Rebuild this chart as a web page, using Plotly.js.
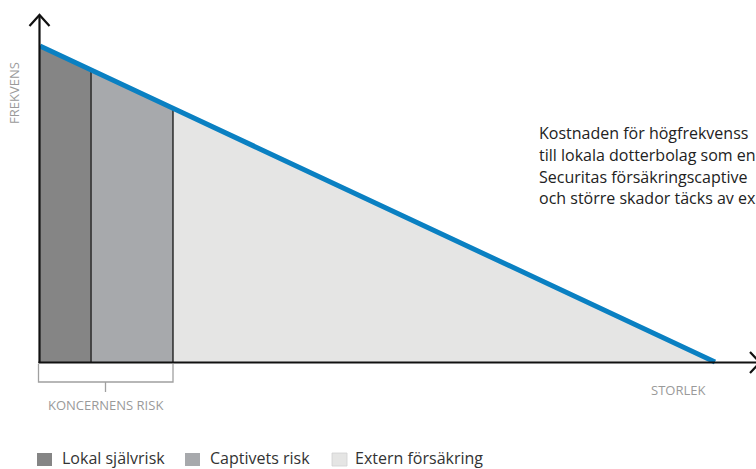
<!DOCTYPE html>
<html>
<head>
<meta charset="utf-8">
<script src="https://cdn.plot.ly/plotly-3.0.1.min.js"></script>
<style>html,body{margin:0;padding:0;background:#fff;}#chart{width:756px;height:469px;}</style>
</head>
<body>
<div id="chart"></div>
<script>
// ---- data ----
const segmentNames = ['Lokal självrisk', 'Captivets risk', 'Extern försäkring'];
const sizeBounds = [0, 7.56, 19.7, 100];      // STORLEK (skadans storlek)
const freqBounds = [100, 92.4, 80.3, 0];      // FREKVENS along the curve
const segmentColors = ['#858585', '#a7a9ac', '#e5e5e4'];
const annotationLines = [
  'Kostnaden för högfrekvenss',
  'till lokala dotterbolag som en',
  'Securitas försäkringscaptive',
  'och större skador täcks av ex'
];
const axisLabels = {x: 'STORLEK', y: 'FREKVENS', bracket: 'KONCERNENS RISK'};

// ---- pixel helpers for decorations (plot area covers the full figure) ----
const PX = 6.75, PY = 3.16, X0 = 40, Y0 = 362;
const fx = p => (p - X0) / PX;
const fy = p => (Y0 - p) / PY;
const FONT = 'Open Sans';

const traces = [];
for (let i = 0; i < segmentNames.length; i++) {
  traces.push({
    type: 'scatter', mode: 'lines',
    x: [sizeBounds[i], sizeBounds[i + 1]],
    y: [freqBounds[i], freqBounds[i + 1]],
    fill: 'tozeroy', fillcolor: segmentColors[i],
    line: {width: 0, color: segmentColors[i]},
    name: segmentNames[i], showlegend: false, hoverinfo: 'skip'
  });
}
for (let i = 1; i < sizeBounds.length - 1; i++) {
  traces.push({
    type: 'scatter', mode: 'lines',
    x: [sizeBounds[i], sizeBounds[i]],
    y: [0, freqBounds[i]],
    line: {width: 1.5, color: '#2a2a2a'},
    showlegend: false, hoverinfo: 'skip'
  });
}
traces.push({
  type: 'scatter', mode: 'lines',
  x: sizeBounds, y: freqBounds,
  line: {width: 5, color: '#0a80c2'},
  showlegend: false, hoverinfo: 'skip'
});

const shapes = [
  {type: 'line', x0: fx(39.5), x1: fx(39.5), y0: fy(363), y1: fy(15.5), line: {color: '#111', width: 2.2}},
  {type: 'line', x0: fx(38.5), x1: fx(756), y0: fy(362.5), y1: fy(362.5), line: {color: '#111', width: 2.2}},
  {type: 'path', path: `M ${fx(29.5)} ${fy(26)} L ${fx(39.5)} ${fy(15)} L ${fx(49.5)} ${fy(26)}`, line: {color: '#111', width: 2.2}},
  {type: 'path', path: `M ${fx(750)} ${fy(352)} L ${fx(760)} ${fy(362.5)} L ${fx(750)} ${fy(373)}`, line: {color: '#111', width: 2.2}},
  {type: 'path', path: `M ${fx(38.5)} ${fy(364)} L ${fx(38.5)} ${fy(382)} L ${fx(173)} ${fy(382)} L ${fx(173)} ${fy(364)}`, line: {color: '#a0a0a0', width: 1.3}},
  {type: 'line', x0: fx(105.5), x1: fx(105.5), y0: fy(382), y1: fy(392), line: {color: '#a0a0a0', width: 1.3}}
];

const legendSquareX = [37, 185, 332];
const legendTextX = [60, 208, 353];
const annotations = [];
for (let i = 0; i < segmentNames.length; i++) {
  shapes.push({type: 'rect', x0: fx(legendSquareX[i]), x1: fx(legendSquareX[i] + 15),
    y0: fy(453), y1: fy(466), fillcolor: segmentColors[i],
    line: {width: i === 2 ? 0.8 : 0, color: '#d0d0d0'}});
  annotations.push({x: fx(legendTextX[i]), y: fy(458), xanchor: 'left', yanchor: 'middle',
    text: segmentNames[i], showarrow: false, font: {size: 16, color: '#333', family: FONT}});
}
const lineCenters = [133, 155, 176.5, 198];
annotationLines.forEach((t, i) => {
  annotations.push({x: fx(537), y: fy(lineCenters[i]), xanchor: 'left', yanchor: 'middle', align: 'left',
    text: t, showarrow: false, font: {size: 16, color: '#222', family: FONT}});
});
annotations.push({x: fx(678), y: fy(390), xanchor: 'center', yanchor: 'middle',
  text: axisLabels.x, showarrow: false, font: {size: 13, color: '#9a9a9a', family: FONT}});
annotations.push({x: fx(105), y: fy(405), xanchor: 'center', yanchor: 'middle',
  text: axisLabels.bracket, showarrow: false, font: {size: 13, color: '#9a9a9a', family: FONT}});
annotations.push({x: fx(14), y: fy(93), xanchor: 'center', yanchor: 'middle', textangle: -90,
  text: axisLabels.y, showarrow: false, font: {size: 13, color: '#9a9a9a', family: FONT}});

const layout = {
  width: 756, height: 469,
  margin: {l: 0, r: 0, t: 0, b: 0},
  paper_bgcolor: '#fff', plot_bgcolor: '#fff',
  xaxis: {range: [fx(0), fx(756)], visible: false, fixedrange: true},
  yaxis: {range: [fy(469), fy(0)], visible: false, fixedrange: true},
  shapes: shapes, annotations: annotations,
  showlegend: false
};
Plotly.newPlot('chart', traces, layout, {displayModeBar: false, staticPlot: true});
</script>
</body>
</html>
